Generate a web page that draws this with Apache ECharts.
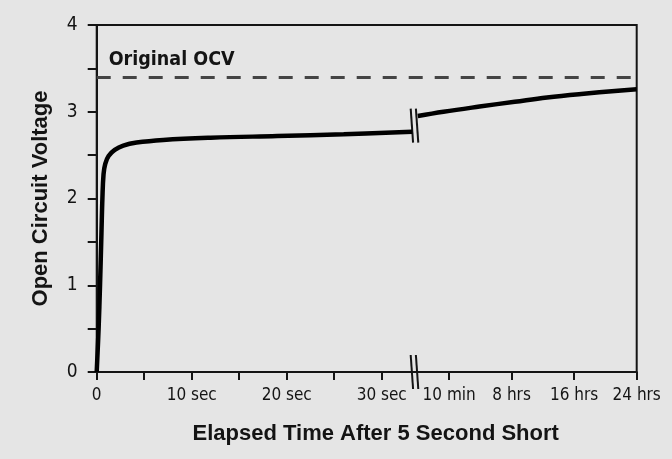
<!DOCTYPE html>
<html>
<head>
<meta charset="utf-8">
<script src="https://cdn.jsdelivr.net/npm/echarts@6/dist/echarts.min.js"></script>
<style>
html,body{margin:0;padding:0;background:#e5e5e5;}
#chart{width:672px;height:459px;}
</style>
</head>
<body>
<div id="chart"></div>
<script>
// Axis position units: 1 unit = 1 second on the left part; the right part (after the break) is a compressed scale
const xTickLabels = ['0', '10 sec', '20 sec', '30 sec', '10 min', '8 hrs', '16 hrs', '24 hrs'];
const xLabelPos = [0, 10, 20, 30, 37.1, 43.67, 50.25, 56.84];
const xTickPos = [0, 5, 10, 15, 20, 25, 30, 37.1, 43.67, 50.25, 56.84];
const xMax = 56.84;
const breakPos = 33.45;

// Open circuit voltage, seconds segment
const segSeconds = [
  [0, 0], [0.2, 0.5], [0.35, 1.0], [0.5, 1.6], [0.6, 2.0], [0.72, 2.28], [0.9, 2.4],
  [1.25, 2.49], [1.9, 2.56], [2.8, 2.61], [4.2, 2.645], [7, 2.675], [12, 2.70],
  [19, 2.72], [26, 2.74], [33.2, 2.77]
];
// Open circuit voltage, minutes/hours segment
const segHours = [
  [33.8, 2.95], [36.5, 3.0], [40.3, 3.06], [44, 3.115], [47.4, 3.165], [51, 3.205], [56.84, 3.26]
];
const originalOCV = 3.4;
const yTicks = [0, 1, 2, 3, 4];

const narrow = "'Liberation Sans Narrow', 'DejaVu Sans Condensed', 'Arial Narrow', sans-serif";
const ink = '#141414';

function breakMark(params, api) {
  const c = api.coord([api.value(0), api.value(1)]);
  const h = 17, g = 2.6, t = 1.2;
  return {
    type: 'group',
    children: [-g, g].map(function (dx) {
      return {
        type: 'line',
        shape: { x1: c[0] + dx - t, y1: c[1] - h, x2: c[0] + dx + t, y2: c[1] + h },
        style: { stroke: ink, lineWidth: 2 }
      };
    })
  };
}

const chart = echarts.init(document.getElementById('chart'), null, { renderer: 'canvas' });
chart.setOption({
  backgroundColor: '#e5e5e5',
  animation: false,
  grid: { left: 96.7, right: 35.3, top: 25, bottom: 87, show: true, borderColor: ink, borderWidth: 2, backgroundColor: 'transparent' },
  xAxis: {
    type: 'value', min: 0, max: xMax,
    name: 'Elapsed Time After 5 Second Short',
    nameLocation: 'middle', nameGap: 51,
    nameTextStyle: { fontFamily: 'Liberation Sans, Arial, sans-serif', fontWeight: 'bold', fontSize: 22, color: ink, padding: [0, 0, 0, 18] },
    axisLine: { lineStyle: { color: ink, width: 2 } },
    axisTick: { show: true, length: 8, lineStyle: { color: ink, width: 2 }, customValues: xTickPos },
    axisLabel: {
      customValues: xLabelPos,
      formatter: function (v) {
        let best = 0;
        for (let i = 0; i < xLabelPos.length; i++) if (Math.abs(xLabelPos[i] - v) < Math.abs(xLabelPos[best] - v)) best = i;
        return xTickLabels[best];
      },
      fontFamily: narrow, fontSize: 17, color: ink, margin: 15
    },
    splitLine: { show: false }
  },
  yAxis: {
    type: 'value', min: 0, max: 4, interval: 0.5,
    name: 'Open Circuit Voltage',
    nameLocation: 'middle', nameGap: 45,
    nameTextStyle: { fontFamily: 'Liberation Sans, Arial, sans-serif', fontWeight: 'bold', fontSize: 22, color: ink },
    axisLine: { lineStyle: { color: ink, width: 2 } },
    axisTick: { show: true, length: 9, lineStyle: { color: ink, width: 2 } },
    axisLabel: {
      formatter: function (v) { return yTicks.indexOf(v) >= 0 ? String(v) : ''; },
      fontFamily: narrow, fontSize: 19, color: ink, margin: 19
    },
    splitLine: { show: false }
  },
  series: [
    {
      type: 'line', data: segSeconds, showSymbol: false, smooth: 0.4,
      lineStyle: { color: '#000', width: 4.5 },
      markLine: {
        symbol: 'none', silent: true,
        lineStyle: { type: [14, 12], color: '#444', width: 3 },
        label: {
          show: true, position: 'insideStartTop', formatter: 'Original OCV',
          fontFamily: narrow, fontWeight: 'bold', fontSize: 19.5, color: ink, distance: [12, 7]
        },
        data: [{ yAxis: originalOCV }]
      }
    },
    {
      type: 'line', data: segHours, showSymbol: false, smooth: 0.4,
      lineStyle: { color: '#000', width: 4.5 }
    },
    {
      type: 'custom', clip: false, renderItem: breakMark,
      data: [[breakPos, 2.84], [breakPos, 0]]
    }
  ]
});
</script>
</body>
</html>
